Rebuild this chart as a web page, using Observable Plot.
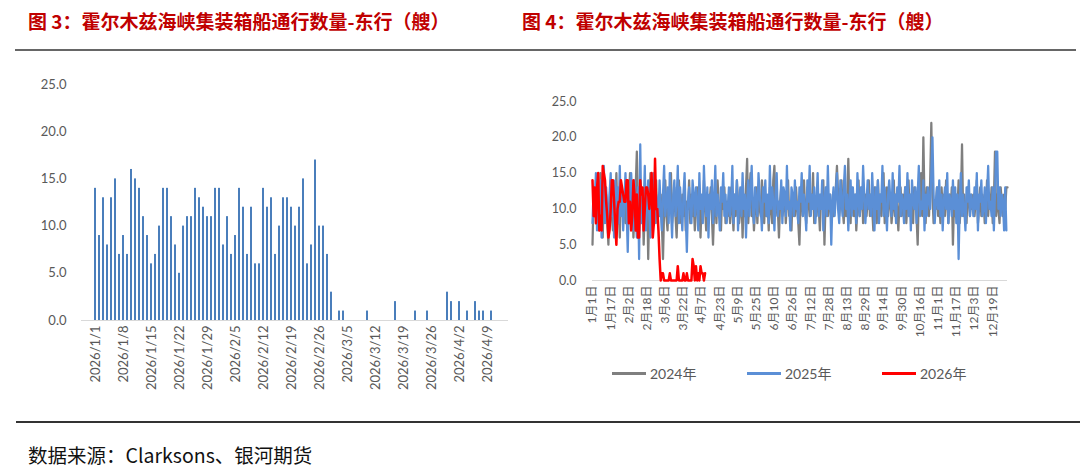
<!DOCTYPE html>
<html><head><meta charset="utf-8">
<script src="https://cdn.jsdelivr.net/npm/d3@7"></script>
<script src="https://cdn.jsdelivr.net/npm/@observablehq/plot@0.6"></script>
<style>
body{margin:0;background:#fff;}
#root{position:relative;width:1080px;height:471px;overflow:hidden;font-family:"Noto Sans CJK SC","Noto Sans",sans-serif;background:#fff;}
.title{position:absolute;top:9px;line-height:24px;font-size:19px;font-weight:bold;color:#C00000;white-space:nowrap;}
.hline{position:absolute;}
#left,#right{position:absolute;top:60px;}
#left{left:0;}
#right{left:530px;}
.leg{position:absolute;top:363px;height:20px;display:flex;align-items:center;font-family:Lato,"Noto Sans CJK SC",sans-serif;font-size:14px;color:#595959;white-space:nowrap;}
.leg span.sw{display:inline-block;width:34px;height:3px;margin-right:4px;}
.src{position:absolute;left:28px;top:441px;line-height:28px;font-size:19.5px;color:#111;white-space:nowrap;}
</style></head>
<body><div id="root">
<div class="title" style="left:28px">图 3：霍尔木兹海峡集装箱船通行数量-东行（艘）</div>
<div class="title" style="left:522px">图 4：霍尔木兹海峡集装箱船通行数量-东行（艘）</div>
<div class="hline" style="left:15px;top:49px;width:1061px;height:2px;background:#666"></div>
<div id="left"></div>
<div id="right"></div>
<div id="legend"></div>
<div class="hline" style="left:16px;top:421px;width:1064px;height:1.5px;background:#333"></div>
<div class="src">数据来源：Clarksons、银河期货</div>
</div>
<script>
// ---- Figure 3 (bars): 2026 daily eastbound container ship transits ----
const barTickLabels = ["2026/1/1","2026/1/8","2026/1/15","2026/1/22","2026/1/29","2026/2/5","2026/2/12","2026/2/19","2026/2/26","2026/3/5","2026/3/12","2026/3/19","2026/3/26","2026/4/2","2026/4/9"];
const yTicks = [0, 5, 10, 15, 20, 25];
const values2026 = [
  14,9,13,8,13,15,7,9,7,16,15,14,11,9,6,7,10,14,14,11,8,5,10,11,11,14,13,12,11,11,14,
  14,8,11,7,9,14,12,7,12,6,6,14,12,13,7,10,13,13,12,10,12,15,6,8,17,10,10,7,
  3,0,1,1,0,0,0,0,0,1,0,0,0,0,0,0,2,0,0,0,0,1,0,0,1,0,0,0,0,3,2,0,2,0,1,0,2,1,1,0,1
];
// ---- Figure 4 (lines) ----
const dayTickLabels = ["1月1日","1月17日","2月2日","2月18日","3月6日","3月22日","4月7日","4月23日","5月9日","5月25日","6月10日","6月26日","7月12日","7月28日","8月13日","8月29日","9月14日","9月30日","10月16日","11月1日","11月17日","12月3日","12月19日"];
const seriesNames = ["2024年","2025年","2026年"];
const seriesColors = ["#7f7f7f","#5B8FD6","#FF0000"];
const values2024 = [
  5,12,9,14,8,11,7,15,10,6,13,9,12,8,5,11,14,9,7,12,10,15,8,11,6,13,9,12,10,8,14,
  7,11,15,9,12,6,10,13,18,11,7,14,9,12,5,10,8,13,3,11,15,9,7,12,10,14,8,11,9,
  12,8,3,10,14,9,7,12,11,15,8,10,13,9,6,11,14,10,8,12,9,13,7,11,10,14,8,12,9,11,7,
  10,13,8,12,6,11,9,14,10,7,12,8,11,13,9,5,10,12,8,14,11,9,7,12,10,13,8,11,9,12,
  8,13,10,7,12,9,14,11,8,10,12,6,11,9,13,17,8,12,15,9,11,7,10,13,8,12,10,9,14,11,8,
  12,9,11,7,13,10,8,14,16,9,12,10,6,11,13,9,10,12,8,11,14,9,10,7,12,11,9,13,10,8,
  5,11,12,9,14,10,8,13,11,9,12,10,15,8,11,9,13,10,7,12,10,14,5,11,13,9,10,12,8,11,9,
  10,13,16,12,9,11,14,10,8,12,9,11,17,10,8,13,11,9,12,7,10,14,9,11,13,8,10,12,9,11,14,
  9,12,10,7,13,11,8,14,10,12,9,11,15,8,10,13,9,11,12,8,10,14,9,12,10,7,11,13,9,12,
  10,13,8,11,14,9,12,10,8,13,11,9,5,12,10,15,9,20,11,8,13,10,9,14,22,12,8,11,10,13,9,
  11,8,13,10,12,9,14,11,8,12,10,13,5,11,9,12,10,14,8,11,19,9,12,10,8,13,11,9,12,10,
  12,9,11,14,8,10,13,9,12,11,8,10,14,9,12,10,13,8,11,18,9,12,10,8,13,11,9,12,10,13,13
];
const values2025 = [
  8,13,10,15,7,12,9,14,6,11,16,8,13,10,7,12,15,9,11,6,14,10,13,8,16,9,12,7,11,15,10,
  4,12,9,15,11,7,14,10,6,13,3,19,8,12,10,16,7,11,14,9,6,13,10,15,8,12,11,9,
  14,10,7,12,16,9,11,13,8,15,10,6,12,14,9,11,16,8,13,10,7,12,15,9,4,11,13,10,8,14,12,
  9,13,11,7,15,10,12,8,16,11,9,13,6,12,10,14,8,11,16,9,12,10,7,13,11,15,9,12,8,10,
  13,9,11,16,8,12,10,14,7,11,13,9,15,10,12,6,11,14,9,12,16,10,8,13,11,9,15,12,10,7,13,
  11,14,9,12,8,16,10,13,11,7,12,15,9,11,10,14,8,13,12,9,16,10,11,7,13,12,9,14,10,11,
  8,13,11,15,9,12,10,7,14,11,16,9,12,10,13,8,11,15,9,12,10,14,7,11,13,9,16,10,12,5,11,
  13,9,12,15,10,8,14,11,9,13,16,10,12,7,11,14,9,13,10,12,8,15,11,9,13,10,16,12,8,11,14,
  10,12,9,15,11,7,13,10,14,8,12,11,16,9,13,10,7,12,14,11,9,15,10,12,8,13,11,16,9,12,
  11,8,13,10,15,9,12,7,14,11,10,13,8,12,16,9,11,10,14,7,12,9,13,11,10,15,20,12,8,11,13,
  10,14,9,12,7,11,13,10,15,8,12,11,9,14,10,13,8,12,3,11,15,9,12,10,7,13,11,14,9,12,
  11,9,13,10,15,7,12,11,14,9,10,13,8,12,16,10,11,9,13,7,12,18,18,10,13,9,12,11,7,13,7
];

const fmtDay = d3.utcFormat("%Y/%-m/%-d");
const barCats = d3.utcDay.range(new Date(Date.UTC(2026,0,1)), new Date(Date.UTC(2026,3,12))).map(fmtDay);
const barRows = values2026.map((v, i) => ({date: barCats[i], v}));
const axisStyle = {fontFamily: "Lato, 'Noto Sans CJK SC', sans-serif", color: "#595959", background: "transparent", overflow: "visible"};

const left = Plot.plot({
  width: 520, height: 340,
  marginLeft: 81, marginRight: 12, marginTop: 24, marginBottom: 80,
  style: {...axisStyle, fontSize: "13px"},
  x: {type: "band", domain: barCats, paddingInner: 0.52, paddingOuter: 0.25, axis: null},
  y: {domain: [0, 25], axis: null},
  marks: [
    Plot.axisY({ticks: yTicks, tickFormat: d3.format(".1f"), tickSize: 0, tickPadding: 15, fontSize: 13, label: null}),
    Plot.axisX({ticks: barTickLabels, tickSize: 0, tickRotate: -90, tickPadding: 5, fontSize: 13, label: null}),
    Plot.barY(barRows, {x: "date", y: "v", fill: "#4A7EBB"}),
    Plot.ruleY([0], {stroke: "#d9d9d9", strokeWidth: 1})
  ]
});
document.getElementById("left").appendChild(left);

const dayTickPos = dayTickLabels.map((_, i) => i * 16);
const right = Plot.plot({
  width: 540, height: 300,
  marginLeft: 62, marginRight: 63, marginTop: 41, marginBottom: 80,
  style: {...axisStyle, fontSize: "12px"},
  x: {type: "linear", domain: [0, 365], axis: null},
  y: {domain: [0, 25], axis: null},
  marks: [
    Plot.axisY({ticks: yTicks, tickFormat: d3.format(".1f"), tickSize: 0, tickPadding: 16, fontSize: 12.5, label: null}),
    Plot.axisX({ticks: dayTickPos, tickFormat: (d, i) => dayTickLabels[i], tickSize: 0, tickRotate: -90, tickPadding: 5, fontSize: 12, label: null}),
    Plot.ruleY([0], {stroke: "#d9d9d9", strokeWidth: 1}),
    Plot.lineY(values2024, {stroke: seriesColors[0], strokeWidth: 2.25}),
    Plot.lineY(values2025, {stroke: seriesColors[1], strokeWidth: 2.25}),
    Plot.lineY(values2026, {stroke: seriesColors[2], strokeWidth: 2.5})
  ]
});
document.getElementById("right").appendChild(right);

const legX = [612, 747, 882];
const leg = document.getElementById("legend");
seriesNames.forEach((name, i) => {
  const d = document.createElement("div");
  d.className = "leg";
  d.style.left = legX[i] + "px";
  d.innerHTML = `<span class="sw" style="background:${seriesColors[i]}"></span>${name}`;
  leg.appendChild(d);
});
</script>
</body></html>
